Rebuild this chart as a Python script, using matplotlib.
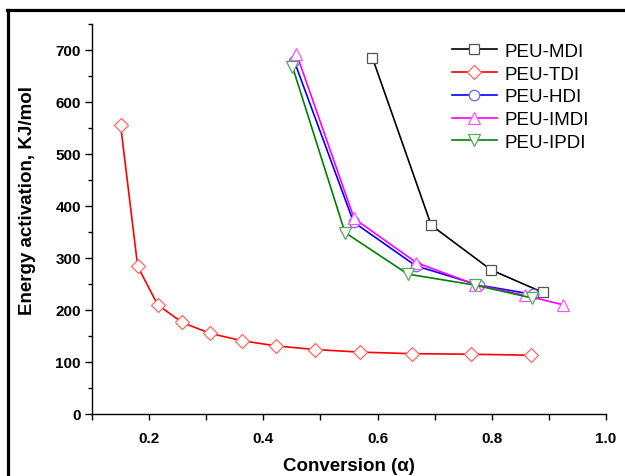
import matplotlib
matplotlib.use("Agg")
import matplotlib.pyplot as plt
from matplotlib.lines import Line2D
from matplotlib.ticker import MultipleLocator

plt.rcParams['font.family'] = ['Liberation Sans', 'DejaVu Sans']

# conversion (alpha) and activation energy (kJ/mol) per sample
mdi_x = [0.591, 0.694, 0.799, 0.889]
mdi_y = [685, 363, 277, 234]

tdi_x = [0.150, 0.180, 0.215, 0.258, 0.307, 0.362, 0.422, 0.490, 0.569, 0.660, 0.763, 0.869]
tdi_y = [556, 284, 210, 176, 155, 141, 131, 124, 119, 116, 115, 113]

hdi_x = [0.454, 0.558, 0.667, 0.777, 0.872]
hdi_y = [679, 369, 285, 248, 230]

imdi_x = [0.458, 0.559, 0.668, 0.771, 0.858, 0.925]
imdi_y = [693, 376, 291, 249, 228, 210]

ipdi_x = [0.451, 0.543, 0.653, 0.770, 0.871]
ipdi_y = [668, 349, 269, 248, 223]

labels = ['PEU-MDI', 'PEU-TDI', 'PEU-HDI', 'PEU-IMDI', 'PEU-IPDI']

fig = plt.figure(figsize=(6.25, 4.77), dpi=100)
ax = fig.add_axes([92/625, 62/477, 514/625, 390/477])

series = [
    (mdi_x, mdi_y, 'black', '#555555', 's', 6.5),
    (tdi_x, tdi_y, 'red', '#ff6666', 'D', 7),
    (hdi_x, hdi_y, 'blue', '#6666ff', 'o', 7.5),
    (imdi_x, imdi_y, 'magenta', '#ff55ff', '^', 8.5),
    (ipdi_x, ipdi_y, 'green', '#55aa55', 'v', 8.5),
]
for (x, y, c, mc, m, ms), lab in zip(series, labels):
    ax.plot(x, y, color=c, lw=1.2, marker=m, ms=ms, mfc='white',
            mec=mc, mew=0.9, label=lab)

ax.spines['top'].set_visible(False)
ax.spines['right'].set_visible(False)
for s in ['left', 'bottom']:
    ax.spines[s].set_linewidth(1.0)

ax.set_xticks([0.2, 0.4, 0.6, 0.8, 1.0])
ax.set_xticklabels(['0.2', '0.4', '0.6', '0.8', '1.0'])
ax.xaxis.set_minor_locator(MultipleLocator(0.1))
ax.set_yticks(range(0, 800, 100))
ax.yaxis.set_minor_locator(MultipleLocator(50))
ax.set_xlim(0.1, 1.0)
ax.set_ylim(0, 750)
ax.tick_params(axis='y', which='major', length=5, width=1, labelsize=11, pad=3)
ax.tick_params(axis='y', which='minor', length=3, width=1)
ax.tick_params(axis='x', which='major', length=4, width=1, labelsize=11, pad=8)
ax.tick_params(axis='x', which='minor', length=4, width=1)
for t in ax.get_xticklabels() + ax.get_yticklabels():
    t.set_fontweight('bold')

ax.set_xlabel('Conversion (α)', fontsize=13.5, fontweight='bold', va='center')
ax.set_ylabel('Energy activation, KJ/mol', fontsize=13.5, fontweight='bold', va='center')
ax.xaxis.set_label_coords(0.5, -0.131)
ax.yaxis.set_label_coords(-0.125, 0.55)

ax.legend(loc='upper left', bbox_to_anchor=(0.70, 0.952), frameon=False,
          fontsize=13.5, handlelength=2.4, handletextpad=0.4, labelspacing=0.3,
          borderpad=0, borderaxespad=0)

# screenshot frame (top and left edges)
fig.add_artist(Line2D([7/625, 1], [1 - 11/477, 1 - 11/477], color='black', lw=2.3,
                      transform=fig.transFigure))
fig.add_artist(Line2D([8/625, 8/625], [0, 1 - 11/477], color='black', lw=2.3,
                      transform=fig.transFigure))

fig.savefig('out.png', dpi=100)
